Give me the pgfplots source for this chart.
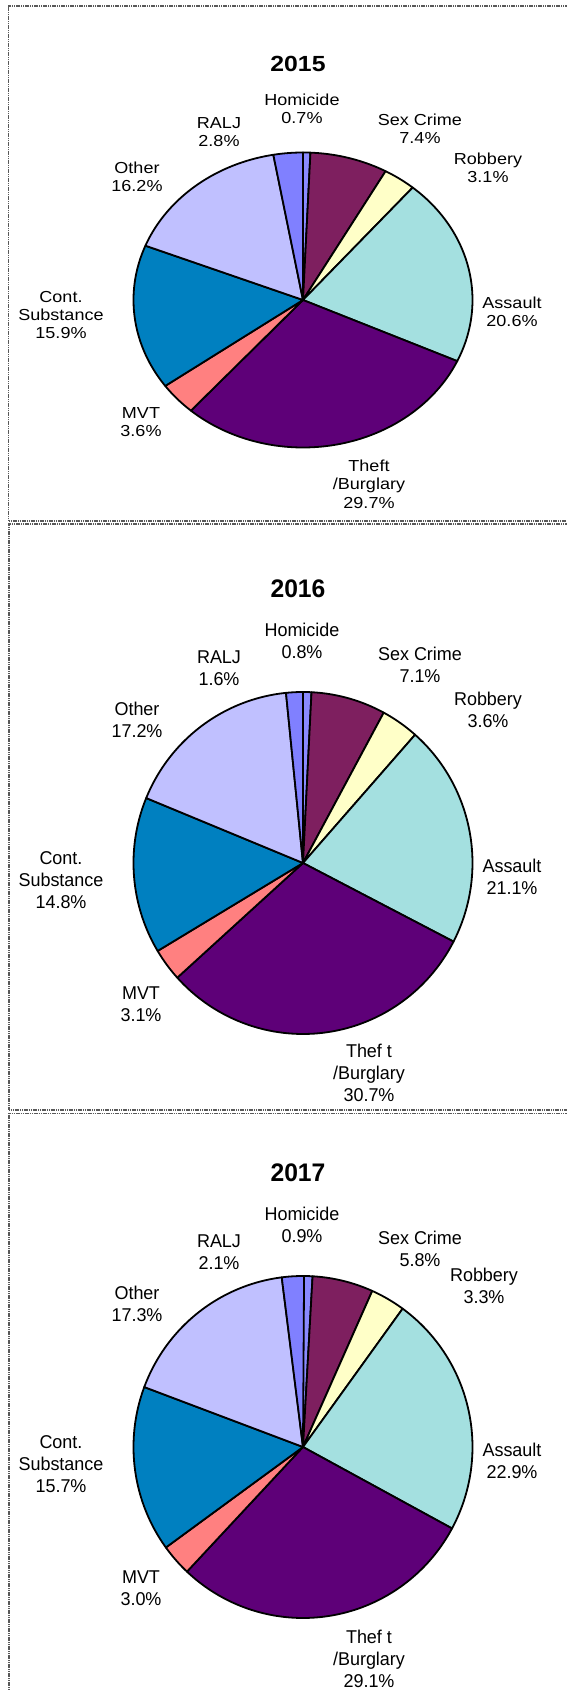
\documentclass[border=0pt]{standalone}
\usepackage{pgfplots}
\usepackage{pgfplotstable}
\pgfplotsset{compat=1.18}
\usepackage{fontspec}
\setmainfont{Liberation Sans}
\newfontfamily\fontA{Liberation Sans}[FakeStretch=1.13]
\newfontfamily\fontB{Liberation Sans}[FakeStretch=0.97]

\definecolor{chom}{HTML}{8A8AFF}
\definecolor{csex}{HTML}{7E1F5F}
\definecolor{crob}{HTML}{FFFFC8}
\definecolor{cass}{HTML}{A4E0E0}
\definecolor{cthe}{HTML}{5E0078}
\definecolor{cmvt}{HTML}{FF8080}
\definecolor{ccon}{HTML}{0080C0}
\definecolor{coth}{HTML}{C0C0FF}
\definecolor{cral}{HTML}{8080FF}

% percentages, clockwise from 12 o'clock
\pgfplotstableread{
crime value color
Homicide 0.7 chom
SexCrime 7.4 csex
Robbery 3.1 crob
Assault 20.6 cass
Theft 29.7 cthe
MVT 3.6 cmvt
ContSubstance 15.9 ccon
Other 16.2 coth
RALJ 2.8 cral
}\dataA
\pgfplotstableread{
crime value color
Homicide 0.8 chom
SexCrime 7.1 csex
Robbery 3.6 crob
Assault 21.1 cass
Theft 30.7 cthe
MVT 3.1 cmvt
ContSubstance 14.8 ccon
Other 17.2 coth
RALJ 1.6 cral
}\dataB
\pgfplotstableread{
crime value color
Homicide 0.9 chom
SexCrime 5.8 csex
Robbery 3.3 crob
Assault 22.9 cass
Theft 29.1 cthe
MVT 3.0 cmvt
ContSubstance 15.7 ccon
Other 17.3 coth
RALJ 2.1 cral
}\dataC

\def\rx{169.5}

% #1 table, #2 cx, #3 cy (y measured from top), #4 ry
\newcommand\drawpie[4]{%
  \gdef\acc{0}%
  \pgfmathsetmacro\cyup{1690-#3}%
  \pgfplotsforeachungrouped \i in {0,...,8}{%
    \pgfplotstablegetelem{\i}{value}\of{#1}%
    \pgfmathsetmacro\endv{\acc+\pgfplotsretval}%
    \pgfplotstablegetelem{\i}{color}\of{#1}%
    \edef\temp{\noexpand\addplot[fill=\pgfplotsretval, draw=black, line width=1.8bp, line join=round,
        domain=\acc:\endv, samples=80, variable=\noexpand\t]
      ({#2+\rx*cos(90-3.6*\noexpand\t)}, {\cyup+#4*sin(90-3.6*\noexpand\t)}) -- (axis cs:#2,\cyup) -- cycle;}%
    \temp
    \xdef\acc{\endv}%
  }%
}

\newcommand\lbl[3]{\node[lblA] at (axis cs:#1,{1690-(#2)}) {#3};}
\newcommand\lblb[3]{\node[lblB] at (axis cs:#1,{1690-(#2)}) {#3};}
\newcommand\ttl[3]{\node[ttlA] at (axis cs:#1,{1690-(#2)}) {#3};}
\newcommand\ttlb[3]{\node[ttlB] at (axis cs:#1,{1690-(#2)}) {#3};}

\begin{document}
\begin{tikzpicture}
\tikzset{
  lblA/.style={align=center, inner sep=0pt, text=black, font=\fontA\fontsize{16}{18.5}\selectfont},
  lblB/.style={align=center, inner sep=0pt, text=black, font=\fontB\fontsize{18.6}{22}\selectfont},
  ttlA/.style={inner sep=0pt, text=black, font=\fontA\bfseries\fontsize{22}{24}\selectfont},
  ttlB/.style={inner sep=0pt, text=black, font=\fontB\bfseries\fontsize{25.5}{27}\selectfont},
  frame/.style={line width=1.2bp, draw=black!65, dash pattern=on 1.2bp off 0.6bp}
}
\begin{axis}[x=1bp, y=1bp, xmin=0, xmax=567, ymin=0, ymax=1690,
  hide axis, clip=false, scale only axis, anchor=south west, at={(0,0)}]

% frames
\draw[frame] (axis cs:600,{1690-6}) -- (axis cs:8.5,{1690-6}) -- (axis cs:8.5,{1690-521}) -- (axis cs:600,{1690-521});
\draw[frame] (axis cs:600,{1690-524}) -- (axis cs:9,{1690-524}) -- (axis cs:9,{1690-1110}) -- (axis cs:600,{1690-1110});
\draw[frame] (axis cs:600,{1690-1113.5}) -- (axis cs:9,{1690-1113.5}) -- (axis cs:9,{1690-1700});

% ---------- 2015
\drawpie{\dataA}{303}{300}{147.5}
\ttl{298}{64}{2015}
\lbl{302}{109}{Homicide\\0.7\%}
\lbl{219}{132}{RALJ\\2.8\%}
\lbl{420}{129}{Sex Crime\\7.4\%}
\lbl{488}{168}{Robbery\\3.1\%}
\lbl{137}{177}{Other\\16.2\%}
\lbl{61}{315}{Cont.\\Substance\\15.9\%}
\lbl{512}{312}{Assault\\20.6\%}
\lbl{141}{422}{MVT\\3.6\%}
\lbl{369}{484}{Theft\\/Burglary\\29.7\%}

% ---------- 2016
\drawpie{\dataB}{303}{863}{171}
\ttlb{298}{589}{2016}
\lblb{302}{641}{Homicide\\0.8\%}
\lblb{219}{668}{RALJ\\1.6\%}
\lblb{420}{665}{Sex Crime\\7.1\%}
\lblb{488}{710}{Robbery\\3.6\%}
\lblb{137}{720}{Other\\17.2\%}
\lblb{61}{880}{Cont.\\Substance\\14.8\%}
\lblb{512}{877}{Assault\\21.1\%}
\lblb{141}{1004}{MVT\\3.1\%}
\lblb{369}{1073}{Thef t\\/Burglary\\30.7\%}

% ---------- 2017
\drawpie{\dataC}{303}{1447}{171}
\ttlb{298}{1173}{2017}
\lblb{302}{1225}{Homicide\\0.9\%}
\lblb{219}{1252}{RALJ\\2.1\%}
\lblb{420}{1249}{Sex Crime\\5.8\%}
\lblb{484}{1286}{Robbery\\3.3\%}
\lblb{137}{1304}{Other\\17.3\%}
\lblb{61}{1464}{Cont.\\Substance\\15.7\%}
\lblb{512}{1461}{Assault\\22.9\%}
\lblb{141}{1588}{MVT\\3.0\%}
\lblb{369}{1659}{Thef t\\/Burglary\\29.1\%}
\end{axis}
\pgfresetboundingbox
\useasboundingbox (0,0) rectangle (567bp,1690bp);
\end{tikzpicture}
\end{document}
